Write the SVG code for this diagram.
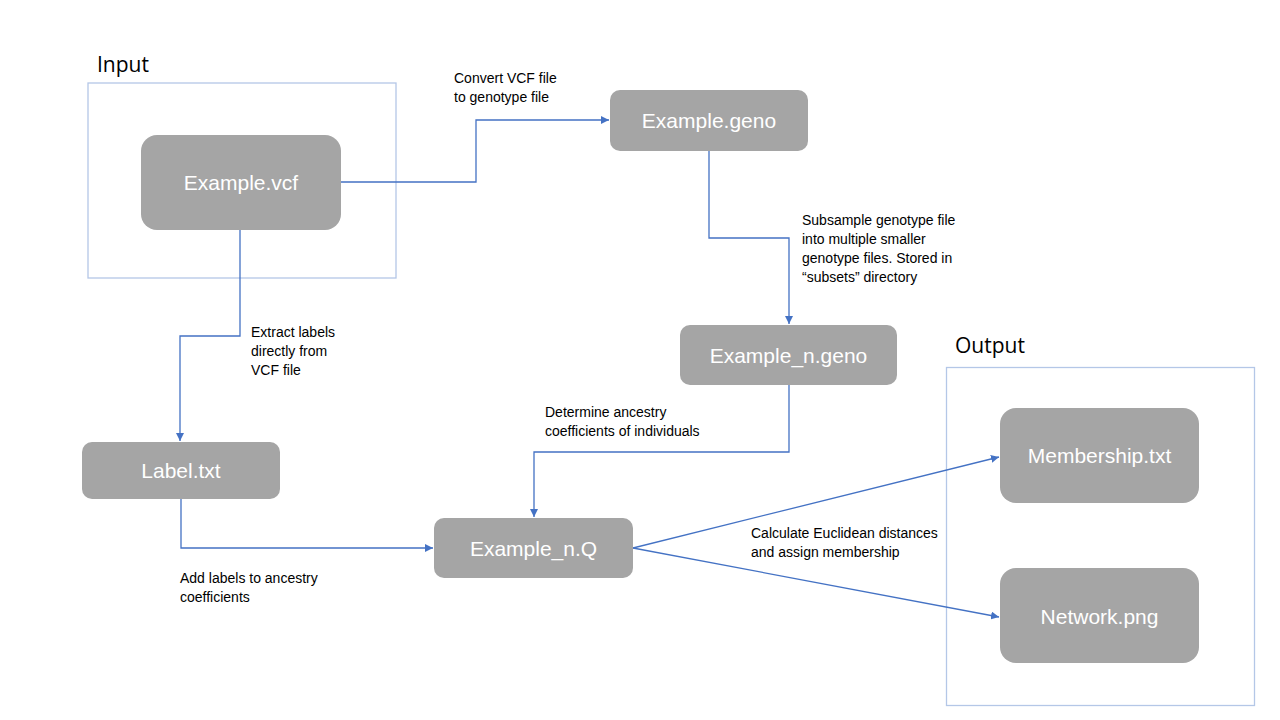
<svg xmlns="http://www.w3.org/2000/svg" width="1280" height="720" viewBox="0 0 1280 720">
<defs>
<style>
.frame{fill:none;stroke:#b4c7e7;stroke-width:1.3}
.node{fill:#a5a5a5}
.ntext{font-family:"Liberation Sans",Arial,sans-serif;font-size:21px;fill:#ffffff;text-anchor:middle}
.head{font-family:"Open Sans","Liberation Sans",sans-serif;font-size:21px;fill:#000000}
.lbl{font-family:"Liberation Sans",Arial,sans-serif;font-size:14px;fill:#000000}
.conn{fill:none;stroke:#4472c4;stroke-width:1.3}
</style>
<marker id="arr" viewBox="0 0 10 10" refX="10" refY="5" markerWidth="8" markerHeight="8" markerUnits="userSpaceOnUse" orient="auto">
<path d="M0,0 L10,5 L0,10 z" fill="#4472c4"/>
</marker>
</defs>
<rect width="1280" height="720" fill="#ffffff"/>

<g id="input-group">
<text class="head" x="97" y="72">Input</text>
<rect class="frame" x="88" y="83" width="308" height="195"/>
</g>
<g id="output-group">
<text class="head" x="955" y="353">Output</text>
<rect class="frame" x="946.5" y="367.5" width="308" height="338"/>
</g>

<g id="connectors">
<polyline class="conn" points="341,182 476,182 476,120 609,120" marker-end="url(#arr)"/>
<polyline class="conn" points="709,151 709,238 789,238 789,324" marker-end="url(#arr)"/>
<polyline class="conn" points="240,230 240,336 180,336 180,441" marker-end="url(#arr)"/>
<polyline class="conn" points="789,385 789,452 534,452 534,517" marker-end="url(#arr)"/>
<polyline class="conn" points="181,499 181,548 433,548" marker-end="url(#arr)"/>
<line class="conn" x1="633" y1="548" x2="999" y2="457" marker-end="url(#arr)"/>
<line class="conn" x1="633" y1="548" x2="999" y2="617" marker-end="url(#arr)"/>
</g>

<g id="labels">
<text class="lbl" x="454" y="83">Convert VCF file</text>
<text class="lbl" x="454" y="102">to genotype file</text>
<text class="lbl" x="802" y="225">Subsample genotype file</text>
<text class="lbl" x="802" y="244">into multiple smaller</text>
<text class="lbl" x="802" y="263">genotype files. Stored in</text>
<text class="lbl" x="802" y="282">“subsets” directory</text>
<text class="lbl" x="251" y="337">Extract labels</text>
<text class="lbl" x="251" y="356">directly from</text>
<text class="lbl" x="251" y="375">VCF file</text>
<text class="lbl" x="545" y="417">Determine ancestry</text>
<text class="lbl" x="545" y="436">coefficients of individuals</text>
<text class="lbl" x="180" y="583">Add labels to ancestry</text>
<text class="lbl" x="180" y="602">coefficients</text>
<text class="lbl" x="751" y="538">Calculate Euclidean distances</text>
<text class="lbl" x="751" y="557">and assign membership</text>
</g>

<g id="example-vcf">
<rect class="node" x="141" y="135" width="200" height="95" rx="16"/>
<text class="ntext" x="241" y="190">Example.vcf</text>
</g>
<g id="example-geno">
<rect class="node" x="610" y="90" width="198" height="61" rx="10"/>
<text class="ntext" x="709" y="128">Example.geno</text>
</g>
<g id="example-n-geno">
<rect class="node" x="680" y="325" width="217" height="60" rx="10"/>
<text class="ntext" x="788.5" y="363">Example_n.geno</text>
</g>
<g id="label-txt">
<rect class="node" x="82" y="442" width="198" height="57" rx="10"/>
<text class="ntext" x="181" y="478">Label.txt</text>
</g>
<g id="example-n-q">
<rect class="node" x="434" y="518" width="199" height="60" rx="10"/>
<text class="ntext" x="533.5" y="556">Example_n.Q</text>
</g>
<g id="membership-txt">
<rect class="node" x="1000" y="408" width="199" height="95" rx="16"/>
<text class="ntext" x="1099.5" y="463">Membership.txt</text>
</g>
<g id="network-png">
<rect class="node" x="1000" y="568" width="199" height="95" rx="16"/>
<text class="ntext" x="1099.5" y="624">Network.png</text>
</g>
</svg>
